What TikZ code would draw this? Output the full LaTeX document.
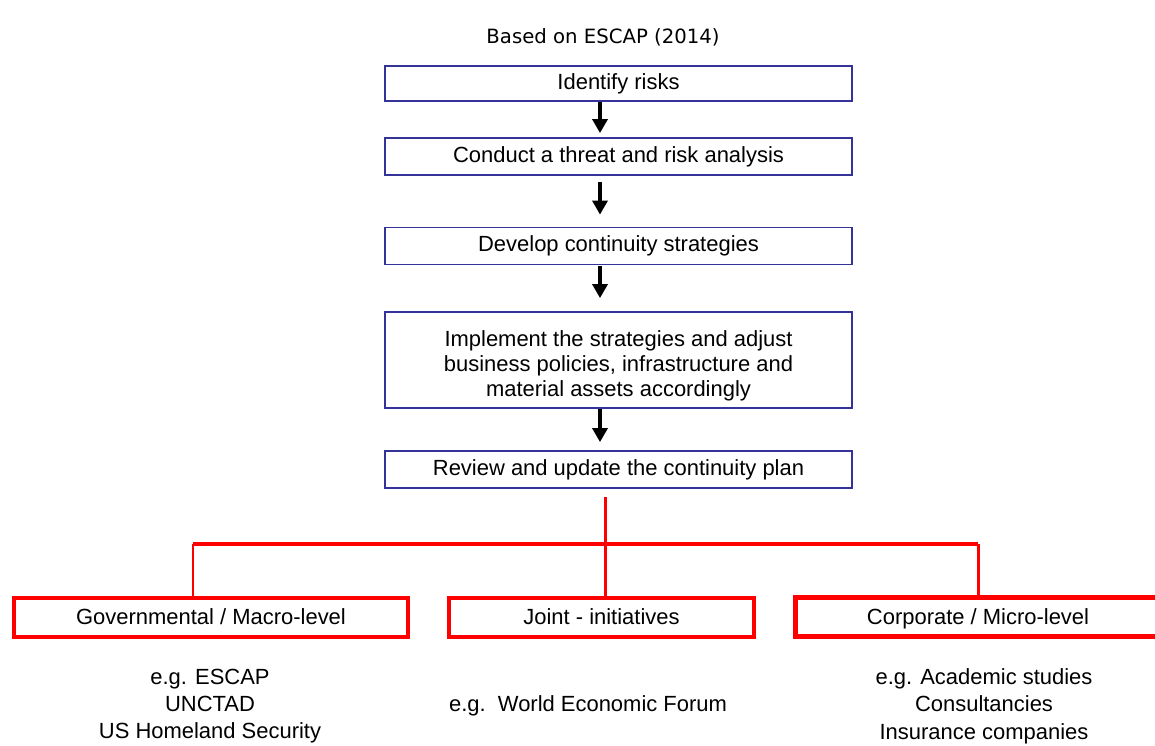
\documentclass[tikz,border=0pt]{standalone}
\usepackage{fontspec}
\setmainfont{Liberation Sans}
\newfontfamily\verdfont{DejaVu Sans}
\usetikzlibrary{calc}
\usetikzlibrary{arrows.meta}
\definecolor{stepblue}{RGB}{51,51,153}
\newcommand*{\bw  }{9.34cm}
\newcommand*{\aoff}{-18.5}
\newcommand*{\txt }{\fontsize{12.5}{14}\selectfont}

\begin{document}
\begin{tikzpicture}[x=0.02cm, y=-0.02cm, font=\txt,
    stepbox/.style={draw=stepblue, line width=1pt, minimum width=\bw, minimum height=0.74cm, align=center, inner sep=0pt},
    levelbox/.style={draw=red, line width=2.3pt, minimum height=0.78cm, inner sep=0pt, text height=0.9em, text depth=0.07em},
    arr/.style={line width=2.4pt, -{Triangle[width=8.5pt,length=8pt]}},
    redln/.style={draw=red, line width=1.7pt}]
    \useasboundingbox (0,0) rectangle (1155,745);
    \fill [white] (0,0) rectangle (1155,745);
    \node [font=\verdfont\fontsize{11.2}{13}\selectfont] (src) at (603,37) {Based on ESCAP (2014)};
    \node [stepbox, minimum height=0.7cm] (b1) at (618.5, 83.5) {Identify risks};
    \node [stepbox] (b2) at (618.5,156.5) {Conduct a threat and risk analysis};
    \node [stepbox] (b3) at (618.5,246.0) {Develop continuity strategies};
    \node [stepbox, minimum height=1.92cm, label={[align=center, yshift=-0.12cm, font=\fontsize{12.5}{14.2}\selectfont]center:Implement the strategies and adjust\\business policies, infrastructure and\\material assets accordingly}] (b4) at (618.5,360.0) {};
    \node [stepbox] (b5) at (618.5,469.5) {Review and update the continuity plan};
    \draw [arr, shorten >=0.08cm] ($(b1.south)+(\aoff,0)$) -- ($(b2.north)+(\aoff,0)$);
    \draw [arr, shorten <=0.12cm, shorten >=0.24cm] ($(b2.south)+(\aoff,0)$) -- ($(b3.north)+(\aoff,0)$);
    \draw [arr, shorten <=0.02cm, shorten >=0.26cm] ($(b3.south)+(\aoff,0)$) -- ($(b4.north)+(\aoff,0)$);
    \draw [arr, shorten >=0.16cm] ($(b4.south)+(\aoff,0)$) -- ($(b5.north)+(\aoff,0)$);
    \node [levelbox, minimum width=7.88cm] (gov) at (211,617.5) {Governmental / Macro-level};
    \node [levelbox, minimum width=6.10cm] (joint) at (601.5,617.5) {Joint - initiatives};
    \node [levelbox, minimum width=7.32cm, line width=2.8pt] (corp) at (978,617) {Corporate / Micro-level};
    \coordinate (dg) at (193,544);
    \coordinate (dj) at (605,544);
    \coordinate (dc) at (978,544);
    \draw [redln, shorten <=0.16cm] (dj |- b5.south) -- (dj);
    \draw [red, line width=2.8pt] (dg) -- (dc);
    \draw [redln] (dg) -- (dg |- gov.north);
    \draw [redln] (dj) -- (dj |- joint.north);
    \draw [redln] (dc) -- (corp.north);
    \node [align=center, font=\fontsize{12.5}{15.6}\selectfont] (govex) at (210,706) {e.g. ESCAP\\UNCTAD\\US Homeland Security};
    \node (jointex) at (588,706) {e.g.\ \ World Economic Forum};
    \node [align=center, font=\fontsize{12.5}{15.6}\selectfont] (corpex) at (984,706) {e.g. Academic studies\\Consultancies\\Insurance companies};
\end{tikzpicture}
\end{document}
